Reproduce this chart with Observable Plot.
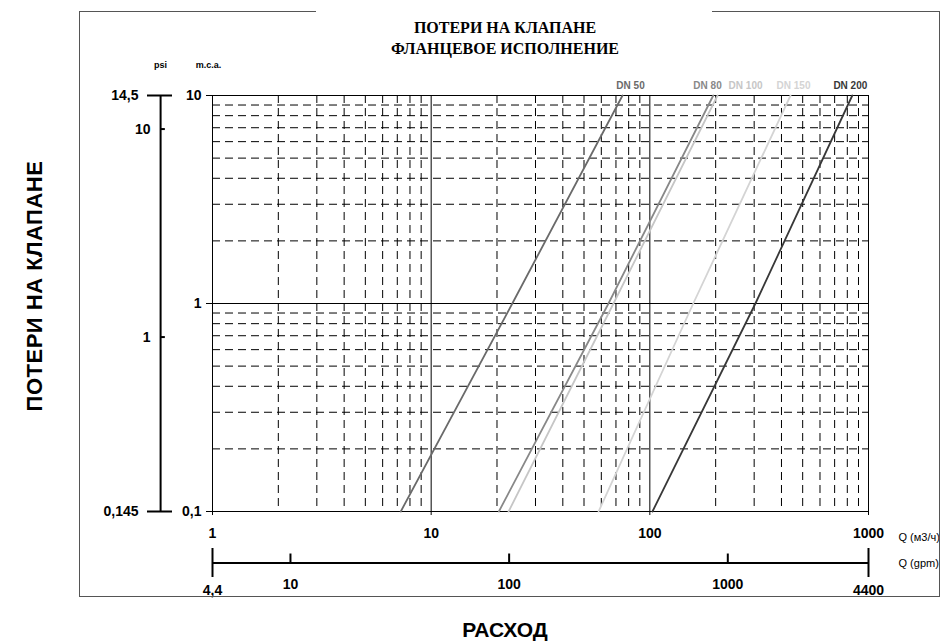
<!DOCTYPE html>
<html><head><meta charset="utf-8">
<script src="https://cdn.jsdelivr.net/npm/d3@7"></script>
<script src="https://cdn.jsdelivr.net/npm/@observablehq/plot@0.6"></script>
<style>
body{margin:0;background:#fff;}
#wrap{position:relative;width:944px;height:643px;overflow:hidden;font-family:"Liberation Sans",Arial,sans-serif;}
#wrap svg{position:absolute;left:0;top:0;}
.border{position:absolute;left:79px;top:11px;width:861px;height:586px;border:1.5px solid #555;box-sizing:border-box;pointer-events:none;}
.gap{position:absolute;left:316px;top:6px;width:396px;height:12px;background:#fff;}
.title{position:absolute;left:305px;width:400px;top:17px;text-align:center;font:bold 16px "Liberation Serif",serif;line-height:21px;color:#000;}
.ytitle{position:absolute;left:35px;top:286px;transform:translate(-50%,-50%) rotate(-90deg);white-space:nowrap;font:bold 22px "Liberation Sans",Arial,sans-serif;letter-spacing:0.5px;color:#000;}
.xtitle{position:absolute;left:505px;top:630px;transform:translate(-50%,-50%);white-space:nowrap;font:bold 21px "Liberation Sans",Arial,sans-serif;color:#000;}
</style>
</head><body>
<div id="wrap"></div>
<script>
// ---- data ----
const lossPoints = [0.1, 1, 10];               // m.c.a.
const qDN50  = [7.26, 23.5, 75.0];             // m3/h at lossPoints
const qDN80  = [20.4, 64.7, 195];
const qDN100 = [22.6, 68.2, 204];
const qDN150 = [58.3, 158, 440];
const qDN200 = [102.8, 304, 843];
const seriesNames = ["DN 50", "DN 80", "DN 100", "DN 150", "DN 200"];
const seriesColors = ["#6a6a6a", "#888888", "#c6c6c6", "#d4d4d4", "#383838"];
const labelQ = [81.6, 183.6, 274, 454, 826];   // where the DN labels sit along Q

const lossTicks = [10, 1, 0.1];
const lossTickLabels = ["10", "1", "0,1"];
const flowTicks = [1, 10, 100, 1000];
const flowTickLabels = ["1", "10", "100", "1000"];
const minorX = [2,3,4,5,6,7,8,9,20,30,40,50,60,70,80,90,200,300,400,500,600,700,800,900];
const majorX = [10, 100];
const minorY = [0.2,0.3,0.4,0.5,0.6,0.7,0.8,0.9,2,3,4,5,6,7,8,9];
const majorY = [1];

const psiTicks = [14.5, 10, 1, 0.145];
const psiLabels = ["14,5", "10", "1", "0,145"];
const gpmTicks = [4.4, 10, 100, 1000, 4400];
const gpmLabels = ["4,4", "10", "100", "1000", "4400"];

// ---- build ----
const seriesQ = [qDN50, qDN80, qDN100, qDN150, qDN200];
const table = seriesQ.map((qs, i) => qs.map((q, j) => ({name: seriesNames[i], q, loss: lossPoints[j]})));

const font = "Liberation Sans, Arial, sans-serif";
const transparent = {background: "transparent", overflow: "visible", fontFamily: font};
const tickFont = 14;

const main = Plot.plot({
  width: 944, height: 643,
  marginLeft: 212, marginRight: 76, marginTop: 95, marginBottom: 132,
  style: transparent,
  x: {type: "log", domain: [1, 1000], axis: null},
  y: {type: "log", domain: [0.1, 10], axis: null},
  marks: [
    Plot.ruleX(minorX, {stroke: "#000", strokeWidth: 1, strokeDasharray: "8,5"}),
    Plot.ruleY(minorY, {stroke: "#000", strokeWidth: 1, strokeDasharray: "8,5"}),
    Plot.ruleX(majorX, {stroke: "#000", strokeWidth: 1}),
    Plot.ruleY(majorY, {stroke: "#000", strokeWidth: 1}),
    Plot.frame({stroke: "#000", strokeWidth: 1}),
    ...table.map((rows, i) => Plot.line(rows, {x: "q", y: "loss", stroke: seriesColors[i], strokeWidth: 1.8})),
    ...labelQ.map((lq, i) => Plot.text([lq], {x: d => d, frameAnchor: "top", dy: -10, text: () => seriesNames[i],
      fill: seriesColors[i], fontSize: 10, fontWeight: "bold", textAnchor: "middle", lineAnchor: "middle"})),
    Plot.axisY({ticks: lossTicks, tickFormat: d => lossTickLabels[lossTicks.indexOf(d)], anchor: "left",
      tickSize: 6, tickPadding: 5, fontSize: tickFont, fontWeight: "bold", label: null}),
    Plot.axisX({ticks: flowTicks, tickFormat: d => flowTickLabels[flowTicks.indexOf(d)], anchor: "bottom",
      tickSize: 4, tickPadding: 13, fontSize: tickFont, fontWeight: "bold", label: null}),
    Plot.text(["m.c.a."], {frameAnchor: "top-left", dx: -4, dy: -30, fontSize: 9, fontWeight: "bold", textAnchor: "middle", lineAnchor: "middle"}),
    Plot.text(["Q (м3/ч)"], {frameAnchor: "bottom-right", dx: 30, dy: 26, fontSize: 11, textAnchor: "start", lineAnchor: "middle"})
  ]
});

const psi = Plot.plot({
  width: 212, height: 643,
  marginLeft: 147, marginRight: 40, marginTop: 95, marginBottom: 132,
  style: transparent,
  x: {domain: [-1.1, 1], axis: null},
  y: {type: "log", domain: [0.145, 14.5], axis: null},
  marks: [
    Plot.ruleX([0], {y1: psiTicks[psiTicks.length - 1], y2: psiTicks[0], stroke: "#000", strokeWidth: 2}),
    Plot.ruleY([psiTicks[0], psiTicks[psiTicks.length - 1]], {x1: -1.1, x2: 1, stroke: "#000", strokeWidth: 2}),
    Plot.ruleY(psiTicks.slice(1, -1), {x1: 0, x2: 0.4, stroke: "#000", strokeWidth: 2}),
    Plot.text([psiTicks[0], psiTicks[psiTicks.length - 1]], {x: -1.1, y: d => d, text: d => psiLabels[psiTicks.indexOf(d)],
      dx: -9, textAnchor: "end", lineAnchor: "middle", fontSize: tickFont, fontWeight: "bold"}),
    Plot.text(psiTicks.slice(1, -1), {x: 0, y: d => d, text: d => psiLabels[psiTicks.indexOf(d)],
      dx: -10, textAnchor: "end", lineAnchor: "middle", fontSize: tickFont, fontWeight: "bold"}),
    Plot.text(["psi"], {x: 0, frameAnchor: "top", dy: -30, fontSize: 9, fontWeight: "bold", textAnchor: "middle", lineAnchor: "middle"})
  ]
});

const gpm = Plot.plot({
  width: 944, height: 643,
  marginLeft: 212, marginRight: 76, marginTop: 548, marginBottom: 66,
  style: transparent,
  x: {type: "log", domain: [4.4, 4400], axis: null},
  y: {domain: [-1, 1], axis: null},
  marks: [
    Plot.ruleY([0], {x1: gpmTicks[0], x2: gpmTicks[gpmTicks.length - 1], stroke: "#000", strokeWidth: 2}),
    Plot.ruleX([gpmTicks[0], gpmTicks[gpmTicks.length - 1]], {y1: -1, y2: 1, stroke: "#000", strokeWidth: 2}),
    Plot.ruleX(gpmTicks.slice(1, -1), {y1: 0, y2: 0.62, stroke: "#000", strokeWidth: 2}),
    Plot.text([gpmTicks[0], gpmTicks[gpmTicks.length - 1]], {x: d => d, y: -1, text: d => gpmLabels[gpmTicks.indexOf(d)],
      dy: 13, textAnchor: "middle", lineAnchor: "middle", fontSize: tickFont, fontWeight: "bold"}),
    Plot.text(gpmTicks.slice(1, -1), {x: d => d, y: -1, text: d => gpmLabels[gpmTicks.indexOf(d)],
      dy: 7.5, textAnchor: "middle", lineAnchor: "middle", fontSize: tickFont, fontWeight: "bold"}),
    Plot.text(["Q (gpm)"], {frameAnchor: "right", dx: 30, fontSize: 11, textAnchor: "start", lineAnchor: "middle"})
  ]
});

const wrap = document.getElementById("wrap");
wrap.appendChild(main);
wrap.appendChild(psi);
wrap.appendChild(gpm);
const border = document.createElement("div"); border.className = "border"; wrap.appendChild(border);
const gap = document.createElement("div"); gap.className = "gap"; wrap.appendChild(gap);
const title = document.createElement("div"); title.className = "title";
title.innerHTML = "ПОТЕРИ НА КЛАПАНЕ<br>ФЛАНЦЕВОЕ ИСПОЛНЕНИЕ"; wrap.appendChild(title);
const yt = document.createElement("div"); yt.className = "ytitle"; yt.textContent = "ПОТЕРИ НА КЛАПАНЕ"; wrap.appendChild(yt);
const xt = document.createElement("div"); xt.className = "xtitle"; xt.textContent = "РАСХОД"; wrap.appendChild(xt);
</script>
</body></html>
